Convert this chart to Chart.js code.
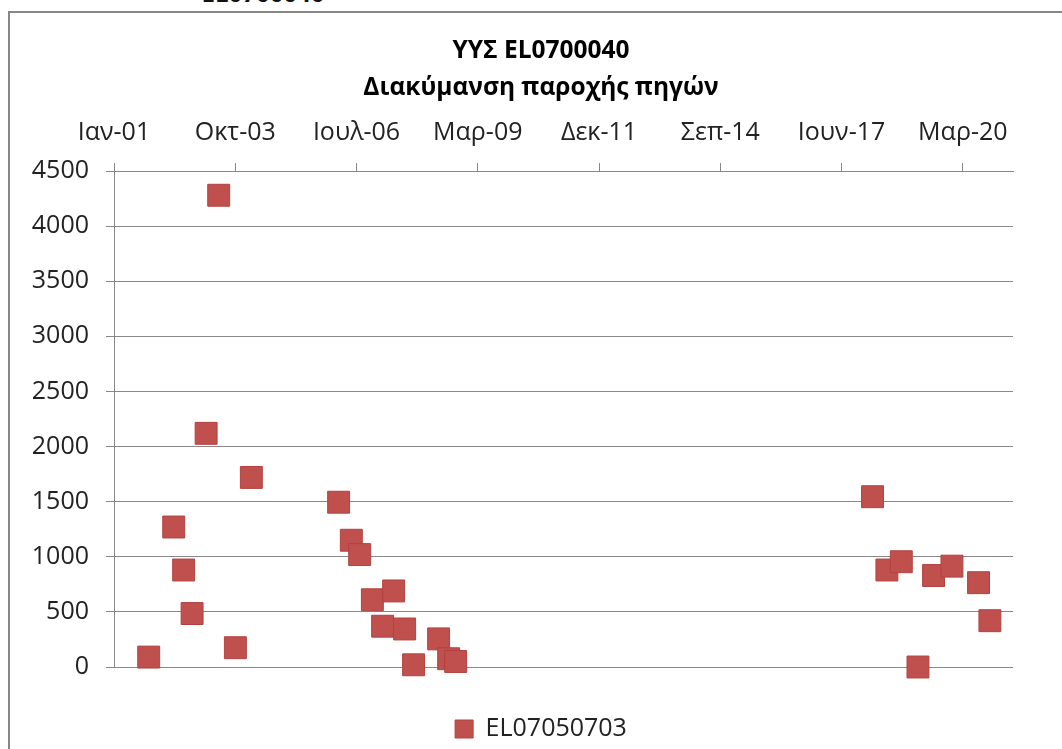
<!DOCTYPE html>
<html>
<head>
<meta charset="utf-8">
<script src="https://cdn.jsdelivr.net/npm/chart.js@4.4.1/dist/chart.umd.min.js"></script>
<style>
  html, body { margin: 0; padding: 0; background: #fff; overflow: hidden; width: 1062px; height: 749px; }
  #sheetTitle { position: absolute; left: 0; width: 526px; top: -19px; text-align: center;
                font: bold 24px 'Open Sans', sans-serif; line-height: 24px; color: #111; }
  #frame { position: absolute; left: 8px; top: 11px; width: 1100px; height: 800px;
           border: 2px solid #878787; box-sizing: border-box; }
  #wrap { position: absolute; left: 0; top: 0; width: 1062px; height: 749px; }
</style>
</head>
<body>
<div id="sheetTitle">EL0700040</div>
<div id="frame"></div>
<div id="wrap"><canvas id="c" width="1062" height="749"></canvas></div>
<script>
// Spring discharge measurements, station EL07050703
const sampleDates = [
  '2001-10-16', '2002-05-11', '2002-08-01', '2002-10-10', '2003-02-03', '2003-05-18',
  '2003-10-03', '2004-02-12', '2006-02-03', '2006-05-19', '2006-07-27', '2006-11-09',
  '2007-02-02', '2007-05-04', '2007-08-03', '2007-10-16', '2008-05-10', '2008-08-01',
  '2008-09-28', '2018-03-08', '2018-07-05', '2018-11-01', '2019-03-19', '2019-07-26',
  '2019-12-25', '2020-08-01', '2020-11-03'
];
const flowValues = [
  90, 1270, 880, 485, 2120, 4280,
  175, 1720, 1495, 1150, 1020, 610,
  370, 690, 345, 20, 255, 75,
  50, 1545, 880, 955, 0, 830,
  915, 765, 420
];

// Date axis: labels every 1003 days starting in January 2001
const tickLabels = ['Ιαν-01', 'Οκτ-03', 'Ιουλ-06', 'Μαρ-09', 'Δεκ-11', 'Σεπ-14', 'Ιουν-17', 'Μαρ-20'];
const axisStart = '2001-01-02';
const axisEnd = '2021-05-13';
const tickStepDays = 1003;

const FONT = "'Open Sans', 'Noto Sans', sans-serif";
const dayNumber = s => Date.UTC(+s.slice(0, 4), +s.slice(5, 7) - 1, +s.slice(8, 10)) / 86400000;
const points = sampleDates.map((d, i) => ({ x: dayNumber(d), y: flowValues[i] }));

// Let the value-axis labels use the space left of the axis box (they are clipped to it otherwise)
const yLabelRoom = {
  id: 'yLabelRoom',
  afterLayout(chart) { chart.scales.y.left = 0; }
};

new Chart(document.getElementById('c'), {
  type: 'scatter',
  data: {
    datasets: [{
      label: 'EL07050703',
      data: points,
      pointStyle: 'rect',
      radius: 15.5,
      hoverRadius: 15.5,
      backgroundColor: '#C0504D',
      borderColor: '#B3423F',
      borderWidth: 1,
      clip: false
    }]
  },
  plugins: [yLabelRoom],
  options: {
    responsive: false,
    animation: false,
    devicePixelRatio: 1,
    layout: { padding: { left: 69, right: 49, top: 0, bottom: -2.5 } },
    plugins: {
      title: {
        display: true,
        text: ['ΥΥΣ EL0700040', 'Διακύμανση παροχής πηγών'],
        color: '#000',
        font: { family: FONT, size: 24.5, weight: 'bold', lineHeight: 37 / 24.5 },
        padding: { top: 32.5, bottom: 0 }
      },
      legend: {
        display: true,
        position: 'bottom',
        labels: { boxWidth: 18, boxHeight: 18, padding: 49.5, color: '#222', font: { family: FONT, size: 25 } }
      },
      tooltip: { enabled: false }
    },
    scales: {
      x: {
        type: 'linear',
        position: 'top',
        min: dayNumber(axisStart),
        max: dayNumber(axisEnd),
        afterFit: s => { s.height = 64.5; },
        afterBuildTicks: s => {
          s.ticks = tickLabels.map((_, i) => ({ value: dayNumber(axisStart) + i * tickStepDays }));
        },
        ticks: {
          autoSkip: false, maxRotation: 0, padding: 15, color: '#222',
          font: { family: FONT, size: 25 },
          callback: (v, i) => tickLabels[i]
        },
        grid: { drawOnChartArea: false, drawTicks: true, tickLength: 8, color: '#888' },
        border: { display: true, color: '#888', width: 1 }
      },
      y: {
        min: 0,
        max: 4500,
        afterFit: s => { s.width = 45; },
        ticks: {
          stepSize: 500, padding: 17, color: '#222', font: { family: FONT, size: 25 },
          callback: v => String(v)
        },
        grid: { color: '#888', tickLength: 8 },
        border: { display: true, color: '#888', width: 1 }
      }
    }
  }
});
</script>
</body>
</html>
